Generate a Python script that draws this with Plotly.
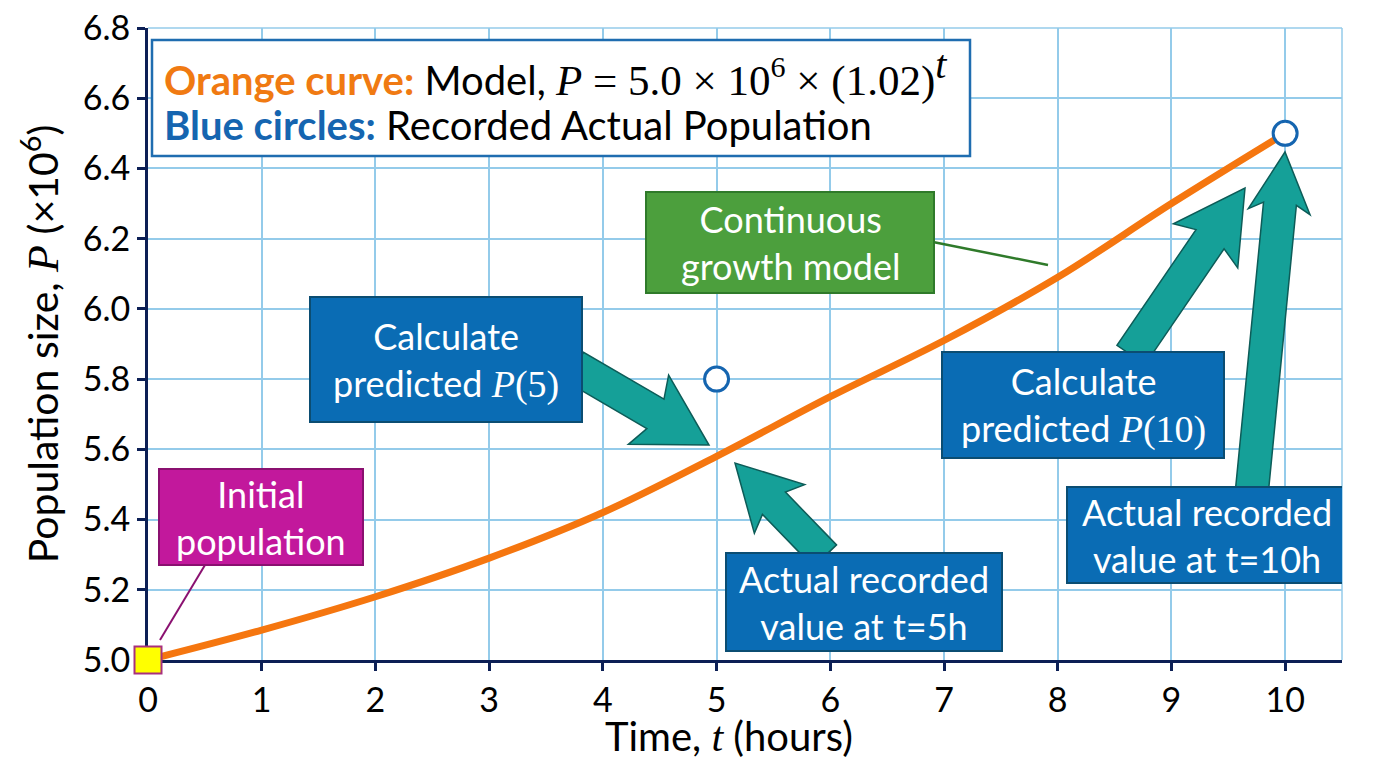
"""
Population growth chart: model curve vs recorded values
"""
import math
import plotly.graph_objects as go

# ---- data ----
t_model = [0, 1, 2, 3, 4, 5, 6, 7, 8, 9, 10]
p_model = [5.0, 5.085, 5.18, 5.29, 5.42, 5.58, 5.75, 5.91, 6.09, 6.30, 6.50]

t_actual = [5, 10]
p_actual = [5.8, 6.5]

t_initial = [0]
p_initial = [5.0]

x_ticks = [0, 1, 2, 3, 4, 5, 6, 7, 8, 9, 10]
y_ticks = [5.0, 5.2, 5.4, 5.6, 5.8, 6.0, 6.2, 6.4, 6.6, 6.8]

# ---- layout geometry (screen pixels; page body adds an 8px margin) ----
PAGE = 8
W, H = 1360, 752
L, R, T, B = 148, 1342, 28, 660
X_RANGE = [0, 10.5]
Y_RANGE = [4.9999, 6.8001]   # tiny pad so the 6.8 tick is kept

NAVY = '#0c1f55'
GRID = '#94cbea'
ORANGE = '#f5760f'
BLUE_BOX = '#0a6cb4'
BLUE_EDGE = '#0b4d72'
TEAL = '#15a098'
TEAL_EDGE = '#0d5c58'
FONT = 'Lato'
MATH = 'Liberation Serif'


def px2x(px):
    return X_RANGE[0] + (px - L) / (R - L) * (X_RANGE[1] - X_RANGE[0])


def py2y(py):
    return Y_RANGE[0] + (B - py) / (B - T) * (Y_RANGE[1] - Y_RANGE[0])


def m(s, size=None):
    # math-style serif text
    extra = f';font-size:{size}px' if size else ''
    return f'<span style="font-family:{MATH}{extra}">{s}</span>'


def mi(s, size=None):
    return m(f'<i>{s}</i>', size)


def block_arrow(x0, y0, x1, y1, sw, hw, hl):
    dx, dy = x1 - x0, y1 - y0
    n = math.hypot(dx, dy)
    ux, uy = dx / n, dy / n
    nx, ny = -uy, ux
    bx, by = x1 - ux * hl, y1 - uy * hl
    back = 8  # swept-back barbs
    pts = [(x0 + nx * sw / 2, y0 + ny * sw / 2),
           (bx + nx * sw / 2, by + ny * sw / 2),
           (bx - ux * back + nx * hw / 2, by - uy * back + ny * hw / 2),
           (x1, y1),
           (bx - ux * back - nx * hw / 2, by - uy * back - ny * hw / 2),
           (bx - nx * sw / 2, by - ny * sw / 2),
           (x0 - nx * sw / 2, y0 - ny * sw / 2)]
    path = 'M ' + ' L '.join(f'{px2x(px):.4f},{py2y(py):.4f}' for px, py in pts) + ' Z'
    return dict(type='path', path=path, xref='x', yref='y', layer='above',
                fillcolor=TEAL, line=dict(color=TEAL_EDGE, width=1.5))


def box(x0, y0, x1, y1, fill, edge, width=2):
    return dict(type='rect', xref='x', yref='y', layer='above',
                x0=px2x(x0), x1=px2x(x1), y0=py2y(y1), y1=py2y(y0),
                fillcolor=fill, line=dict(color=edge, width=width))


def line(x0, y0, x1, y1, color, width=2):
    return dict(type='line', xref='x', yref='y', layer='above',
                x0=px2x(x0), y0=py2y(y0), x1=px2x(x1), y1=py2y(y1),
                line=dict(color=color, width=width))


def label(x0, y0, x1, y1, text, size=36, color='white'):
    return dict(x=px2x((x0 + x1) / 2), y=py2y((y0 + y1) / 2), xref='x', yref='y',
                text=text, showarrow=False, xanchor='center', yanchor='middle',
                align='center', font=dict(family=FONT, size=size, color=color))


fig = go.Figure()

fig.add_trace(go.Scatter(
    x=t_model, y=p_model, mode='lines',
    line=dict(color=ORANGE, width=7, shape='spline'),
    showlegend=False, cliponaxis=False))

fig.add_trace(go.Scatter(
    x=t_actual, y=p_actual, mode='markers',
    marker=dict(size=24, color='white', line=dict(color='#1565b0', width=3)),
    showlegend=False, cliponaxis=False))

fig.add_trace(go.Scatter(
    x=t_initial, y=p_initial, mode='markers',
    marker=dict(size=27, symbol='square', color='#ffff00',
                line=dict(color='#a8307e', width=2)),
    showlegend=False, cliponaxis=False))

shapes = [
    # right edge and top grid lines
    dict(type='line', xref='paper', yref='paper', x0=1, x1=1, y0=0, y1=1,
         line=dict(color=GRID, width=1.5), layer='below'),
    dict(type='line', xref='paper', yref='paper', x0=0, x1=1, y0=1, y1=1,
         line=dict(color=GRID, width=1.5), layer='below'),
    # connectors
    line(205, 565, 160, 640, '#8a1070', 2),
    line(933, 242, 1048, 265, '#2f7a2a', 2.5),
    # arrows
    block_arrow(575, 367, 709, 445, 34, 80, 62),
    block_arrow(825, 556, 735, 463, 32, 70, 56),
    block_arrow(1131, 355, 1245, 188, 34, 78, 62),
    block_arrow(1252, 490, 1285, 152, 33, 62, 52),
    # boxes
    box(152, 40, 970, 156, 'white', '#1f6db0', 2.5),
    box(159, 469, 363, 565, '#c2189c', '#8a1070'),
    box(646, 192, 934, 293, '#4c9f3d', '#2f7a2a'),
    box(310, 297, 582, 422, BLUE_BOX, BLUE_EDGE),
    box(726, 553, 1002, 651, BLUE_BOX, BLUE_EDGE),
    box(942, 352, 1224, 458, BLUE_BOX, BLUE_EDGE),
    box(1067, 487, 1347, 583, BLUE_BOX, BLUE_EDGE),
]

annotations = [
    dict(x=px2x(162), y=py2y(73), xref='x', yref='y', xanchor='left', yanchor='middle',
         showarrow=False, font=dict(family=FONT, size=40, color='black'),
         text='<span style="color:#f07a12"><b>Orange curve:</b></span> Model, '
              + mi('P', 43) + m(' = 5.0 × 10<sup>6</sup> × (1.02)', 43)
              + '<sup>' + mi('t', 40) + '</sup>'),
    dict(x=px2x(162), y=py2y(125), xref='x', yref='y', xanchor='left', yanchor='middle',
         showarrow=False, font=dict(family=FONT, size=40, color='black'),
         text='<span style="color:#1565b0"><b>Blue circles:</b></span> Recorded Actual Population'),
    label(159, 469, 363, 565, 'Initial<br>population'),
    label(646, 192, 934, 293, 'Continuous<br>growth model'),
    label(310, 297, 582, 422, 'Calculate<br>predicted ' + mi('P', 38) + m('(5)', 38)),
    label(726, 553, 1002, 651, 'Actual recorded<br>value at t=5h'),
    label(942, 352, 1224, 458, 'Calculate<br>predicted ' + mi('P', 38) + m('(10)', 38)),
    label(1067, 487, 1347, 583, 'Actual recorded<br>value at t=10h'),
    # x-axis title, placed as an annotation so it can sit just under the tick labels
    dict(x=(729 - L) / (R - L), y=(B - 736) / (B - T), xref='paper', yref='paper',
         xanchor='center', yanchor='middle', showarrow=False,
         font=dict(family=FONT, size=40, color='black'),
         text='Time, ' + mi('t', 42) + ' (hours)'),
]

fig.update_layout(
    width=W, height=H,
    margin=dict(l=L - PAGE, r=W - (R - PAGE), t=T - PAGE, b=H - (B - PAGE)),
    paper_bgcolor='white', plot_bgcolor='white',
    font=dict(family=FONT, size=34, color='black'),
    shapes=shapes, annotations=annotations,
    showlegend=False,
)

fig.update_xaxes(
    range=X_RANGE, tickvals=x_ticks, ticktext=[str(v) for v in x_ticks],
    showgrid=True, gridcolor=GRID, gridwidth=1.5, zeroline=False,
    showline=True, linecolor=NAVY, linewidth=3, layer='below traces',
    ticks='outside', ticklen=8, tickwidth=3, tickcolor=NAVY,
    tickfont=dict(family=FONT, size=34), ticklabeloverflow='allow',
    automargin=False,
)

fig.update_yaxes(
    range=Y_RANGE, tickvals=y_ticks, ticktext=[f'{v:.1f}' for v in y_ticks],
    showgrid=True, gridcolor=GRID, gridwidth=1.5, zeroline=False,
    showline=True, linecolor=NAVY, linewidth=3, layer='below traces',
    ticks='outside', ticklen=8, tickwidth=3, tickcolor=NAVY,
    tickfont=dict(family=FONT, size=34), ticklabeloverflow='allow',
    title=dict(text='Population size, ' + mi('P', 44) + ' (×10<sup>6</sup>)',
               font=dict(family=FONT, size=41), standoff=12),
    automargin=False,
)

fig.write_html("out.html")
